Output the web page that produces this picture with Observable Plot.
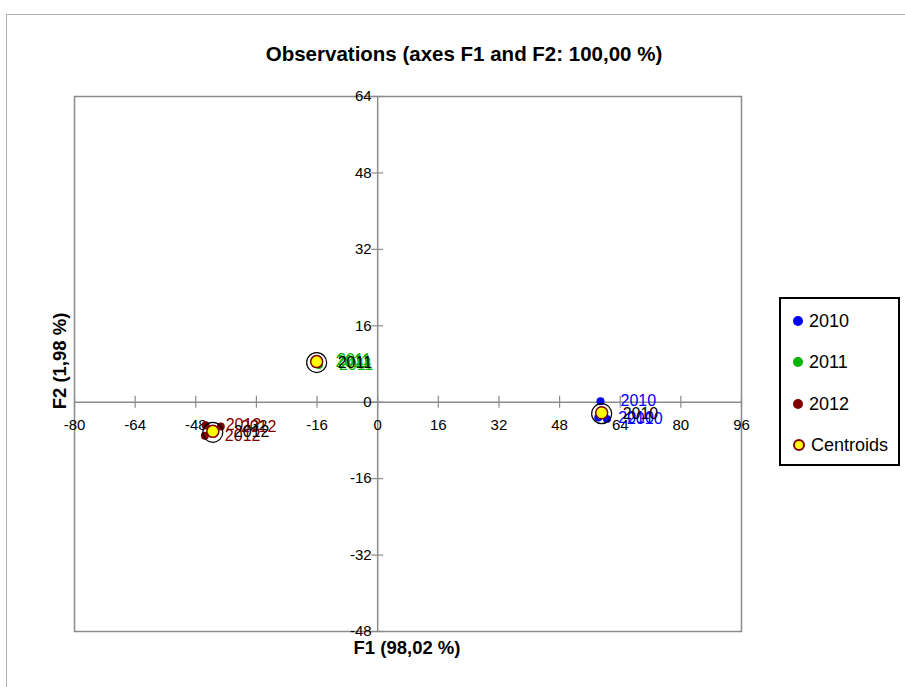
<!DOCTYPE html>
<html>
<head>
<meta charset="utf-8">
<script src="https://cdn.jsdelivr.net/npm/d3@7"></script>
<script src="https://cdn.jsdelivr.net/npm/@observablehq/plot@0.6"></script>
<style>
  html, body { margin: 0; padding: 0; background: #fff; }
  #wrap { position: relative; width: 905px; height: 687px; overflow: hidden; font-family: "Liberation Sans", Arial, sans-serif; }
  #chartframe { position: absolute; left: 6px; top: 14px; width: 960px; height: 760px; border: 1px solid #b0b0b0; }
  #title { position: absolute; left: 0; width: 928px; top: 42px; text-align: center; font-weight: bold; font-size: 20.5px; color: #000; }
  #xlabel { position: absolute; left: 307px; width: 200px; top: 637px; text-align: center; font-weight: bold; font-size: 18.5px; }
  #ylabel { position: absolute; left: 60px; top: 361px; transform: translate(-50%, -50%) rotate(-90deg); font-weight: bold; font-size: 18.5px; white-space: nowrap; }
  #legend { position: absolute; left: 779px; top: 297px; width: 117px; height: 165px; border: 2px solid #000; background: #fff; }
  .li { position: absolute; left: 12px; height: 24px; display: flex; align-items: center; font-size: 18px; }
  .li .sw { width: 10px; height: 10px; border-radius: 50%; margin-right: 6px; box-sizing: border-box; }
  #plot { position: absolute; left: 0; top: 0; }
</style>
</head>
<body>
<div id="wrap">
  <div id="chartframe"></div>
  <div id="plot"></div>
  <div id="title">Observations (axes F1 and F2: 100,00 %)</div>
  <div id="xlabel">F1 (98,02 %)</div>
  <div id="ylabel">F2 (1,98 %)</div>
  <div id="legend"></div>
</div>
<script>
// ---- data ----
const years = ["2010", "2011", "2012"];
const yearColors = ["#0000FF", "#00B400", "#800000"];

const obsYear = ["2010", "2010", "2010", "2011", "2011", "2011", "2012", "2012", "2012"];
const obsF1 = [58.8, 60.5, 58.2, -16.0, -15.5, -16.4, -45.4, -41.4, -45.6];
const obsF2 = [0.2, -3.5, -3.2, 8.9, 7.8, 8.4, -4.8, -5.1, -7.0];

const centroidYear = ["2010", "2011", "2012"];
const centroidF1 = [59.1, -16.1, -43.5];
const centroidF2 = [-2.2, 8.5, -6.1];

const xTicks = [-80, -64, -48, -32, -16, 0, 16, 32, 48, 64, 80, 96];
const yTicks = [-48, -32, -16, 0, 16, 32, 48, 64];

const legendItems = ["2010", "2011", "2012", "Centroids"];

// ---- build tables ----
const obs = obsYear.map((y, i) => ({year: y, f1: obsF1[i], f2: obsF2[i]}));
const cents = centroidYear.map((y, i) => ({year: y, f1: centroidF1[i], f2: centroidF2[i]}));
const colorOf = y => yearColors[years.indexOf(y)];

const font = "Liberation Sans, Arial, sans-serif";
const gray = "#8c8c8c";

const chart = Plot.plot({
  width: 905,
  height: 687,
  marginLeft: 74,
  marginRight: 164,
  marginTop: 96,
  marginBottom: 56,
  x: {domain: [-80, 96], axis: null},
  y: {domain: [-48, 64], axis: null},
  style: {fontFamily: font, background: "transparent"},
  marks: [
    Plot.frame({stroke: gray, strokeWidth: 1.5}),
    Plot.ruleY([0], {stroke: gray, strokeWidth: 1.5}),
    Plot.ruleX([0], {stroke: gray, strokeWidth: 1.5}),
    // x ticks crossing the horizontal axis
    Plot.ruleX(xTicks, {x: d => d, y1: 0, y2: 0, insetTop: -6, insetBottom: -6, stroke: gray, strokeWidth: 1.2}),
    // y ticks crossing the vertical axis
    Plot.ruleY(yTicks, {y: d => d, x1: 0, x2: 0, insetLeft: -6, insetRight: -6, stroke: gray, strokeWidth: 1.2}),
    Plot.text(xTicks, {x: d => d, y: 0, dy: 23, text: d => String(d), fontSize: 15, fill: "#000"}),
    Plot.text(yTicks, {x: 0, y: d => d, dx: -6, text: d => String(d), textAnchor: "end", fontSize: 15, fill: "#000"}),
    // observations
    Plot.dot(obs, {x: "f1", y: "f2", r: 4, fill: d => colorOf(d.year), stroke: "none"}),
    Plot.text(obs, {x: "f1", y: "f2", text: "year", dx: 20, textAnchor: "start", fontSize: 16, fill: d => colorOf(d.year)}),
    // centroid rings
    Plot.dot(cents, {x: "f1", y: "f2", r: 10, dy: 1, fill: "none", stroke: "#000", strokeWidth: 1.2}),
    Plot.dot(cents, {x: "f1", y: "f2", r: 6, fill: "#FFFF00", stroke: "#800000", strokeWidth: 1.5}),
    Plot.text(cents, {x: "f1", y: "f2", text: "year", dx: 21, dy: 1, textAnchor: "start", fontSize: 16, fill: "#000"})
  ]
});
document.getElementById("plot").appendChild(chart);

// ---- legend ----
const leg = document.getElementById("legend");
const legTops = [10, 51, 93, 134];
legendItems.forEach((name, i) => {
  const row = document.createElement("div");
  row.className = "li";
  row.style.top = legTops[i] + "px";
  const sw = document.createElement("div");
  sw.className = "sw";
  if (i < years.length) {
    sw.style.background = colorOf(name);
  } else {
    sw.style.background = "#FFFF00";
    sw.style.border = "2px solid #800000";
    sw.style.width = "12px";
    sw.style.height = "12px";
  }
  row.appendChild(sw);
  const t = document.createElement("span");
  t.textContent = name;
  row.appendChild(t);
  leg.appendChild(row);
});
</script>
</body>
</html>
